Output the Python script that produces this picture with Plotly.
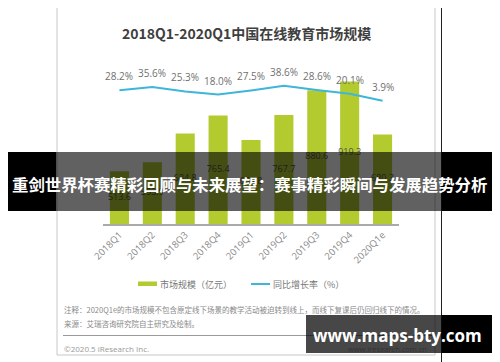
import plotly.graph_objects as go

W, H = 500, 362
OFF = 8  # page body margin offset of the plot div

# ---- data ----
quarters = ["2018Q1", "2018Q2", "2018Q3", "2018Q4", "2019Q1",
            "2019Q2", "2019Q3", "2019Q4", "2020Q1e"]
market_size = [513.6, 553.9, 684.8, 765.4, 654.8, 767.7, 880.6, 919.3, 680.3]
growth_rate = [28.2, 35.6, 25.3, 18.0, 27.5, 38.6, 28.6, 20.1, 3.9]

title_text = "2018Q1-2020Q1中国在线教育市场规模"
legend_bar = "市场规模（亿元）"
legend_line = "同比增长率（%）"
note_text = "注释：2020Q1e的市场规模不包含原定线下场景的教学活动被迫转到线上，而线下复课后仍回归线下的情况。"
source_text = "来源：艾瑞咨询研究院自主研究及绘制。"
copyright_text = "©2020.5 iResearch Inc."
site_text = "www.iresearch.com.cn"
banner_text = "重剑世界杯赛精彩回顾与未来展望：赛事精彩瞬间与发展趋势分析"
watermark_text = "www.maps-bty.com"

BAR_COLOR = "#b4cb30"
LINE_COLOR = "#3db6d9"
CJK = "Noto Sans CJK SC"
LAT = "Open Sans, Noto Sans CJK SC"

Y_MIN, Y_MAX = 275, 1017.1      # visible range of the bar axis
Y2_MIN, Y2_MAX = -281.5, 98.1   # visible range of the rate axis


def px(x):
    return (x - OFF) / W


def py(y):
    return 1 - (y - OFF) / H


fig = go.Figure()

fig.add_trace(go.Bar(
    x=quarters, y=market_size,
    marker=dict(color=BAR_COLOR, line=dict(width=0)),
    name=legend_bar, showlegend=False, hoverinfo="x+y",
))

# value labels centred in the visible part of each bar
fig.add_trace(go.Scatter(
    x=quarters, y=[(Y_MIN + v) / 2 for v in market_size],
    mode="text", text=[f"{v:.1f}" for v in market_size],
    textposition="middle center",
    textfont=dict(family=LAT, size=9, color="#505050"),
    showlegend=False, hoverinfo="skip", cliponaxis=False,
))

fig.add_trace(go.Scatter(
    x=quarters, y=growth_rate, yaxis="y2", mode="lines",
    line=dict(color=LINE_COLOR, width=2),
    name=legend_line, showlegend=False,
))


def note(x, y, text, size, color, family=CJK, xanchor="left"):
    return dict(x=px(x), y=py(y), xref="paper", yref="paper",
                xanchor=xanchor, yanchor="middle", text=text, showarrow=False,
                font=dict(family=family, size=size, color=color))


annotations = []
for q, g in zip(quarters, growth_rate):
    annotations.append(dict(
        x=q, y=g, xref="x", yref="y2", text=f"{g:.1f}%",
        xanchor="center", yanchor="middle",
        showarrow=False, yshift=14,
        font=dict(family=LAT, size=10, color="#707070"),
    ))

annotations += [
    note(246, 33, f"<b>{title_text}</b>", 14, "#3f3f3f", xanchor="center"),
    note(158, 284, legend_bar, 9, "#777777"),
    note(271, 284, legend_line, 9, "#777777"),
    note(62, 309, note_text, 7.5, "#8a8a8a"),
    note(62, 323, source_text, 7.5, "#8a8a8a"),
    note(62, 348, copyright_text, 8, "#999999", family=LAT),
    note(429, 349, site_text, 7.5, "#333333", family=LAT, xanchor="right"),
    note(249, 184, f"<b>{banner_text}</b>", 16.4, "#ffffff", xanchor="center"),
    note(397, 335, f"<b>{watermark_text}</b>", 17, "#ffffff",
         family="Open Sans", xanchor="center"),
]

shapes = [
    dict(type="rect", xref="paper", yref="paper", layer="below",
         x0=px(57), x1=px(435), y0=py(355), y1=py(-2),
         line=dict(color="#c8c8c8", width=1), fillcolor="rgba(0,0,0,0)"),
    dict(type="line", xref="paper", yref="paper", layer="below",
         x0=px(441.5), x1=px(441.5), y0=py(0), y1=py(362),
         line=dict(color="#222222", width=1)),
    dict(type="line", xref="paper", yref="paper", layer="below",
         x0=px(63), x1=px(432), y0=py(335.5), y1=py(335.5),
         line=dict(color="#9a9a9a", width=1)),
    dict(type="rect", xref="paper", yref="paper",
         x0=px(138), x1=px(157), y0=py(286), y1=py(281.5),
         line=dict(width=0), fillcolor=BAR_COLOR),
    dict(type="line", xref="paper", yref="paper",
         x0=px(251), x1=px(270), y0=py(284), y1=py(284),
         line=dict(color=LINE_COLOR, width=2)),
    dict(type="rect", xref="paper", yref="paper", layer="above",
         x0=px(3), x1=px(56.5), y0=py(211), y1=py(152),
         line=dict(width=0), fillcolor="#000000"),
    dict(type="rect", xref="paper", yref="paper", layer="above",
         x0=px(56.5), x1=px(441.5), y0=py(211), y1=py(152),
         line=dict(width=0), fillcolor="rgba(0,0,0,0.62)"),
    dict(type="rect", xref="paper", yref="paper", layer="above",
         x0=px(441.5), x1=px(497), y0=py(211), y1=py(152),
         line=dict(width=0), fillcolor="#000000"),
    dict(type="rect", xref="paper", yref="paper", layer="above",
         x0=px(306), x1=px(441.5), y0=py(353), y1=py(315),
         line=dict(width=0), fillcolor="rgba(0,0,0,0.72)"),
    dict(type="rect", xref="paper", yref="paper", layer="above",
         x0=px(441.5), x1=px(492), y0=py(353), y1=py(315),
         line=dict(width=0), fillcolor="#000000"),
]

fig.update_layout(
    width=W, height=H, autosize=False,
    margin=dict(l=0, r=0, t=0, b=0, pad=0, autoexpand=False),
    paper_bgcolor="#ffffff", plot_bgcolor="rgba(0,0,0,0)",
    bargap=0.42,
    showlegend=False,
    xaxis=dict(
        domain=[px(103), px(399)], range=[-0.5, 8.5], automargin=False,
        showline=True, linecolor="#aaaaaa", linewidth=1.5,
        showgrid=False, zeroline=False, ticks="",
        tickangle=-45, tickfont=dict(family=LAT, size=9.5, color="#8a8a8a"),
    ),
    yaxis=dict(
        domain=[py(224), py(60)], range=[Y_MIN, Y_MAX], automargin=False,
        visible=False, showgrid=False, zeroline=False,
    ),
    yaxis2=dict(
        overlaying="y", range=[Y2_MIN, Y2_MAX], automargin=False,
        visible=False, showgrid=False, zeroline=False,
    ),
    annotations=annotations,
    shapes=shapes,
)

fig.write_html("out.html")
